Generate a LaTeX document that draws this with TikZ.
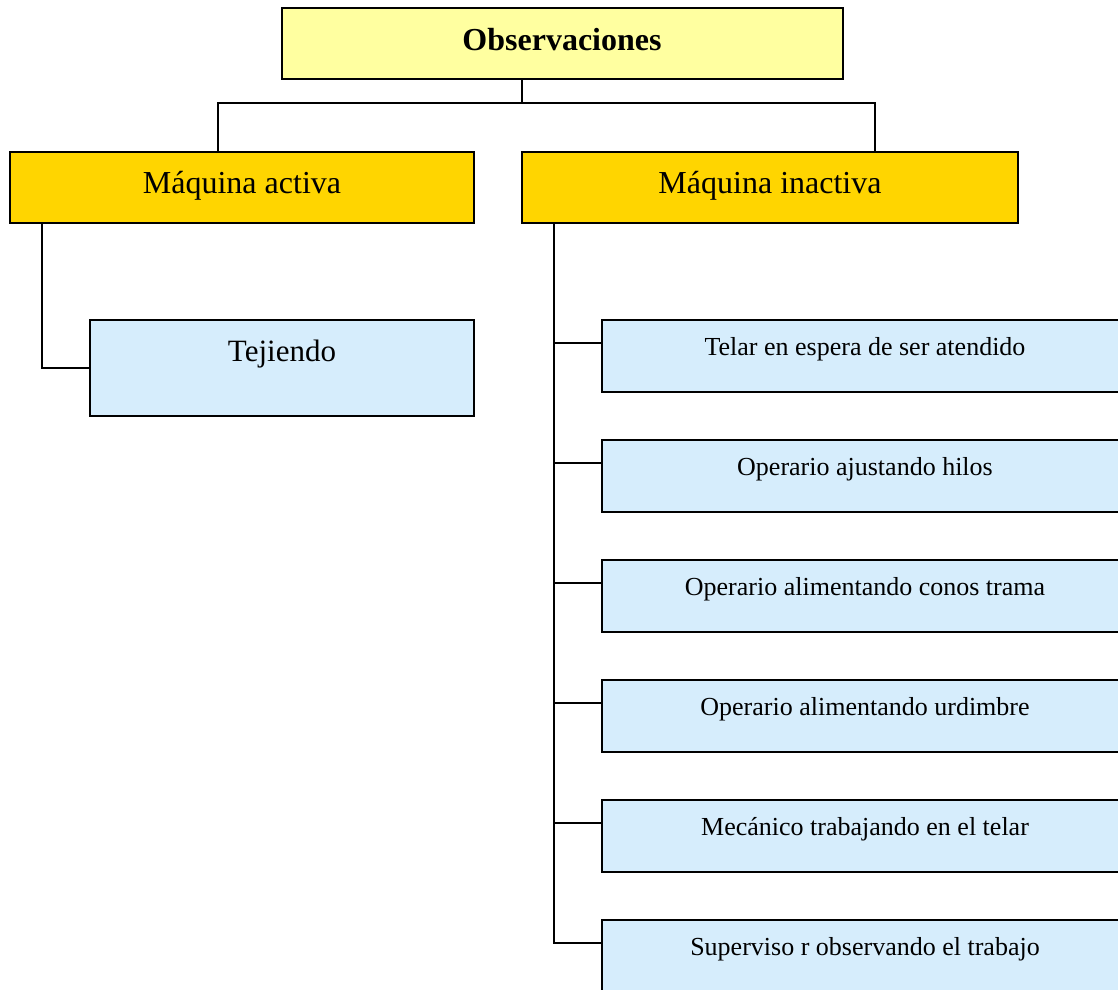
\documentclass[tikz,border=0pt]{standalone}
\usepackage{fontspec}
\setmainfont{Liberation Serif}
\definecolor{titlefill}{RGB}{255,255,160}
\definecolor{goldfill}{RGB}{255,213,0}
\definecolor{bluefill}{RGB}{214,237,252}
\tikzset{
  box/.style={draw=black, line width=2pt, rectangle, outer sep=0pt, inner sep=0pt, anchor=north west},
  titlebox/.style={box, fill=titlefill},
  catbox/.style={box, fill=goldfill},
  itembox/.style={box, fill=bluefill},
  lbl/.style={inner sep=0pt, anchor=base},
  conn/.style={draw=black, line width=2pt},
}
\begin{document}
\begin{tikzpicture}[x=1pt,y=-1pt]
\useasboundingbox (0,0) rectangle (1118,989);
\clip (0,0) rectangle (1118,989);
% boxes
\node[titlebox, minimum width=561pt, minimum height=71pt] (title) at (282,8) {};
\node[lbl] (titlet) at (562,50) {\fontsize{32}{38}\selectfont\bfseries Observaciones};
\node[catbox, minimum width=464pt, minimum height=71pt] (act) at (10,152) {};
\node[lbl] (actt) at (242,193) {\fontsize{32}{38}\selectfont Máquina activa};
\node[catbox, minimum width=496pt, minimum height=71pt] (inact) at (522,152) {};
\node[lbl] (inactt) at (770,193) {\fontsize{32}{38}\selectfont Máquina inactiva};
\node[itembox, minimum width=384pt, minimum height=96pt] (tej) at (90,320) {};
\node[lbl] (tejt) at (282,361) {\fontsize{31}{37}\selectfont Tejiendo};
\foreach \i/\t in {1/Telar en espera de ser atendido,
                   2/Operario ajustando hilos,
                   3/Operario alimentando conos trama,
                   4/Operario alimentando urdimbre,
                   5/Mecánico trabajando en el telar,
                   6/Superviso r observando el trabajo}{
  \node[itembox, minimum width=526pt, minimum height=72pt] (r\i) at (602,{200+120*\i}) {};
  \node[lbl] (r\i t) at (865,{235+120*\i}) {\fontsize{26}{31}\selectfont \t};
}
% connectors
\coordinate (tb) at ([xshift=-40.5pt]title.south);
\coordinate (j) at (522,103);
\coordinate (cL) at (218,152);
\coordinate (cR) at (875,152);
\draw[conn] (tb) -- (j);
\draw[conn] (cL) |- (j) -| (cR);
\draw[conn] ([xshift=32pt]act.south west) |- (tej.west);
\coordinate (trunk) at ([xshift=32pt]inact.south west);
\draw[conn] (trunk) |- ([yshift=13pt]r6.west);
\foreach \i in {1,...,5}{
  \draw[conn] ([yshift=13pt]r\i.west) -- ([yshift=13pt]r\i.west -| trunk);
}
\end{tikzpicture}
\end{document}
